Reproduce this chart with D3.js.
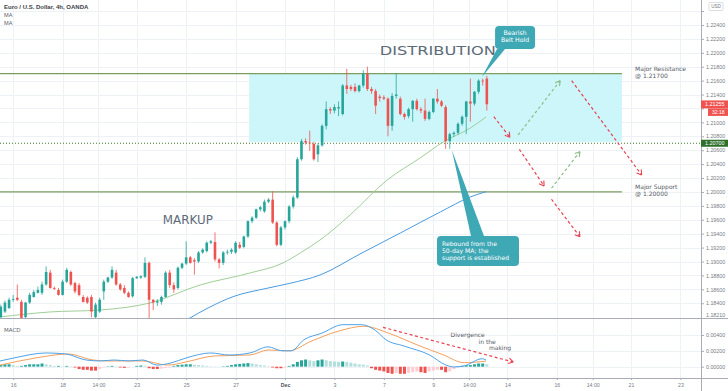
<!DOCTYPE html>
<html>
<head>
<meta charset="utf-8">
<script src="https://cdn.jsdelivr.net/npm/d3@7"></script>
<style>
  html, body { margin: 0; padding: 0; background: #fff; }
  svg { display: block; font-family: "DejaVu Sans", sans-serif; }
</style>
</head>
<body>
<svg id="chart" width="728" height="391"></svg>
<script>
// 4h candles, [open, high, low, close], bar index = position in list
const ohlc = [
  [1.1820,1.1838,1.1819,1.1835],[1.1828,1.1844,1.1826,1.1841],[1.1833,1.1848,1.1832,1.1845],[1.1845,1.1852,1.1842,1.1846],
  [1.1848,1.1867,1.1843,1.1845],[1.1842,1.1845,1.1816,1.1819],[1.1820,1.1842,1.1819,1.1841],[1.1841,1.1855,1.1839,1.1852],
  [1.1849,1.1859,1.1848,1.1856],[1.1855,1.1864,1.1854,1.1859],[1.1855,1.1871,1.1852,1.1867],[1.1867,1.1893,1.1865,1.1885],
  [1.1884,1.1888,1.1861,1.1862],[1.1862,1.1864,1.1859,1.1861],[1.1859,1.1862,1.1851,1.1852],[1.1852,1.1874,1.1851,1.1871],
  [1.1871,1.1891,1.1869,1.1888],[1.1885,1.1887,1.1865,1.1867],[1.1869,1.1871,1.1854,1.1857],[1.1866,1.1869,1.1850,1.1852],
  [1.1849,1.1852,1.1841,1.1842],[1.1848,1.1850,1.1839,1.1841],[1.1849,1.1852,1.1820,1.1828],[1.1820,1.1841,1.1816,1.1838],
  [1.1828,1.1848,1.1826,1.1845],[1.1857,1.1874,1.1845,1.1871],[1.1871,1.1878,1.1869,1.1877],[1.1877,1.1893,1.1875,1.1888],
  [1.1884,1.1888,1.1865,1.1867],[1.1867,1.1869,1.1858,1.1860],[1.1862,1.1866,1.1853,1.1855],[1.1855,1.1857,1.1848,1.1849],
  [1.1850,1.1878,1.1848,1.1876],[1.1876,1.1879,1.1875,1.1878],[1.1877,1.1880,1.1875,1.1879],[1.1878,1.1906,1.1876,1.1898],
  [1.1898,1.1900,1.1816,1.1845],[1.1845,1.1846,1.1830,1.1841],[1.1841,1.1846,1.1836,1.1843],[1.1842,1.1851,1.1838,1.1849],
  [1.1849,1.1886,1.1848,1.1884],[1.1884,1.1888,1.1862,1.1866],[1.1866,1.1870,1.1855,1.1860],[1.1862,1.1893,1.1860,1.1891],
  [1.1891,1.1898,1.1889,1.1897],[1.1897,1.1929,1.1895,1.1906],[1.1906,1.1908,1.1897,1.1898],[1.1902,1.1905,1.1881,1.1900],
  [1.1900,1.1915,1.1898,1.1913],[1.1913,1.1919,1.1911,1.1917],[1.1915,1.1929,1.1913,1.1927],[1.1927,1.1931,1.1925,1.1929],
  [1.1928,1.1942,1.1900,1.1903],[1.1903,1.1905,1.1890,1.1898],[1.1898,1.1915,1.1895,1.1913],[1.1913,1.1917,1.1910,1.1914],
  [1.1914,1.1919,1.1911,1.1917],[1.1913,1.1929,1.1911,1.1927],[1.1924,1.1928,1.1918,1.1920],[1.1921,1.1937,1.1919,1.1936],
  [1.1936,1.1959,1.1934,1.1958],[1.1958,1.1965,1.1955,1.1963],[1.1963,1.1976,1.1961,1.1975],[1.1975,1.1980,1.1972,1.1978],
  [1.1972,1.1989,1.1970,1.1986],[1.1986,1.1991,1.1984,1.1989],[1.1989,1.2001,1.1954,1.1956],[1.1956,1.1958,1.1922,1.1924],
  [1.1924,1.1951,1.1922,1.1949],[1.1949,1.1959,1.1946,1.1958],[1.1958,1.1981,1.1955,1.1979],[1.1979,1.1995,1.1976,1.1992],
  [1.1992,1.2050,1.1990,1.2047],[1.2047,1.2076,1.2045,1.2073],[1.2073,1.2077,1.2068,1.2071],[1.2071,1.2088,1.2059,1.2070],
  [1.2069,1.2072,1.2045,1.2047],[1.2054,1.2070,1.2043,1.2067],[1.2067,1.2097,1.2065,1.2095],[1.2095,1.2130,1.2090,1.2119],
  [1.2119,1.2122,1.2112,1.2117],[1.2117,1.2126,1.2113,1.2122],[1.2120,1.2130,1.2109,1.2122],[1.2112,1.2155,1.2110,1.2153],
  [1.2153,1.2177,1.2141,1.2148],[1.2151,1.2154,1.2145,1.2148],[1.2151,1.2156,1.2143,1.2145],[1.2145,1.2154,1.2143,1.2153],
  [1.2153,1.2175,1.2150,1.2170],[1.2170,1.2180,1.2145,1.2148],[1.2148,1.2151,1.2141,1.2145],[1.2145,1.2148,1.2112,1.2124],
  [1.2137,1.2140,1.2130,1.2135],[1.2136,1.2139,1.2132,1.2134],[1.2134,1.2136,1.2080,1.2095],[1.2095,1.2142,1.2088,1.2138],
  [1.2138,1.2170,1.2134,1.2140],[1.2134,1.2137,1.2110,1.2112],[1.2112,1.2114,1.2104,1.2108],[1.2109,1.2121,1.2106,1.2119],
  [1.2119,1.2132,1.2101,1.2131],[1.2131,1.2134,1.2117,1.2119],[1.2119,1.2122,1.2113,1.2117],[1.2117,1.2134,1.2102,1.2105],
  [1.2105,1.2117,1.2103,1.2115],[1.2115,1.2135,1.2113,1.2134],[1.2134,1.2148,1.2127,1.2130],[1.2130,1.2132,1.2122,1.2124],
  [1.2122,1.2125,1.2062,1.2073],[1.2073,1.2085,1.2062,1.2083],[1.2083,1.2087,1.2079,1.2085],[1.2085,1.2100,1.2082,1.2098],
  [1.2098,1.2110,1.2095,1.2108],[1.2108,1.2131,1.2083,1.2130],[1.2130,1.2163,1.2101,1.2127],[1.2127,1.2145,1.2124,1.2144],
  [1.2144,1.2162,1.2141,1.2160],[1.2160,1.2163,1.2153,1.2159],[1.2163,1.2167,1.2117,1.2126]
];

// moving averages, [bar, price]
const ma50 = [
  [-0.2,1.18203],[12,1.18275],[24.1,1.18303],[36.2,1.18404],[48.4,1.18663],[60.5,1.18835],[68.5,1.18979],
  [72.7,1.19123],[77.5,1.19309],[84.8,1.19669],[93.8,1.20172],[101.8,1.20488],[107.4,1.20718],[114,1.20919],[117.8,1.21077]
];
const ma100 = [
  [45.1,1.18160],[50.8,1.18347],[56.4,1.18495],[64.6,1.18615],[70.2,1.18687],[77.5,1.18806],[87.2,1.19108],
  [97,1.19410],[106.7,1.19712],[114,1.19928],[117.8,1.20004]
];

// MACD pane, [bar, value]
const macdLine = [
  [-0.2,0.00072],[3.2,0.0011],[11,0.00173],[15.8,0.0016],[20.7,0.00084],[24.1,0.00072],[27.5,0.00084],[31.1,0.00072],
  [34.5,0.00084],[37.9,0.0002],[41.3,0.00047],[45,0.0011],[51,0.00173],[55.4,0.00147],[60.5,0.00173],[64.9,0.0025],
  [68.3,0.002],[70.5,0.002],[73.6,0.0034],[77.8,0.0042],[83.1,0.0053],[87.5,0.0053],[90.9,0.0046],[93.5,0.0034],
  [97.9,0.0026],[104,0.0015],[108.1,0.0002],[110,-0.00004],[112.5,0.0001],[116.9,0.001],[117.8,0.00084]
];
const signalLine = [
  [-0.2,0.0002],[8.5,0.0011],[16.3,0.0016],[22.4,0.00084],[25.8,0.00072],[34.5,0.00072],[40.6,0.0002],[45,0.0006],
  [51.8,0.00135],[60.5,0.00147],[64.9,0.0021],[70,0.002],[75.3,0.0032],[82.1,0.0045],[88.2,0.0051],[94.3,0.0042],
  [101.3,0.0027],[107.4,0.0015],[112.5,0.0005],[117.8,0.0007]
];
const histogram = [
  0.0002,0.0003,0.0003,0.0002,0.0001,0.0001,0.0002,0.0003,0.0003,0.0003,
  0.0004,0.0003,0.0002,0.0001,0.0001,0.00005,0.0001,0.00005,-0.0001,-0.0003,
  -0.0004,-0.0004,-0.0005,-0.0005,-0.0003,-0.0001,0.00005,0.0001,0.00005,-0.0001,
  -0.00015,-0.0001,0,0.0001,0.00015,0.0001,-0.0002,-0.0003,-0.0003,-0.00025,
  -0.00015,-0.0001,0.0001,0.0002,0.00025,0.0003,0.0003,0.00025,0.0002,0.00015,
  0.0001,0.00005,0.00003,0.00002,0.00005,0.0001,0.0002,0.0003,0.00035,0.0004,
  0.00045,0.0004,0.0003,0.0002,0.00015,0.00005,-0.0001,-0.0002,-0.0002,-0.0001,
  0.0001,0.0003,0.0006,0.0008,0.0009,0.0008,0.0007,0.0008,0.0009,0.0008,
  0.0007,0.00065,0.0006,0.00065,0.0006,0.0005,0.0004,0.0003,0.00025,0.00015,
  -0.0002,-0.0004,-0.0005,-0.0006,-0.0008,-0.0009,-0.0008,-0.0009,-0.0009,-0.0008,
  -0.0007,-0.0006,-0.0007,-0.0008,-0.0006,-0.0005,-0.0004,-0.0004,-0.0007,-0.0006,
  -0.0003,0.00005,0.0001,0.0002,0.0002,0.0003,0.0004,0.0004,0.0003
];

const priceTicks = [1.226,1.224,1.222,1.220,1.218,1.216,1.214,1.212,1.210,1.208,1.206,1.204,1.202,1.200,
  1.198,1.196,1.194,1.192,1.190,1.188,1.186,1.184];
const macdTicks = [0.004, 0.002, 0];
const timeTicks = [
  [3,'16'],[15,'18'],[23.7,'14:00'],[33,'23'],[45,'25'],[57,'27'],[69,'Dec'],[81,'3'],
  [93,'7'],[105,'9'],[113.7,'14:00'],[123,'14'],[135,'16'],[143.7,'14:00'],[153,'21'],[165,'23']
];

const resistance = 1.217;
const support = 1.200;
const pivot = 1.207;
const lastPrice = 1.21255;
const zoneBars = [60.3, 150.8];
const zoneBottom = 1.2072;

// projected paths, [[bar, price], [bar, price]]
const bearishPaths = [
  [[119.7,1.21082],[123.6,1.20786]],
  [[125.9,1.20613],[131.9,1.20086]],
  [[133.7,1.19895],[140.6,1.19357]],
  [[138.6,1.21599],[155.6,1.20244]]
];
const bullishPaths = [
  [[125.6,1.20819],[135.8,1.21599]],
  [[133.7,1.20053],[140.6,1.20579]]
];
const macdArrow = [[92.8,0.00496],[124.4,0.00059]];

const width = 728;
const height = 391;
const axisX = 701;
const paneBottom = 318;
const macdBottom = 378;

const up = '#26a69a';
const down = '#ef5350';
const teal = '#3ea8b5';
const gridColor = '#eef1f6';
const textGrey = '#787b86';
const axisFont = '"Liberation Sans", Arial, sans-serif';

const svg = d3.select('#chart');

const x = d3.scaleLinear().domain([-0.2, 170]).range([0, axisX]);
const y = d3.scaleLinear().domain([1.18188, 1.22759]).range([paneBottom, 0]);
const ym = d3.scaleLinear().domain([-0.00143, 0.00614]).range([macdBottom, paneBottom]);

svg.append('rect').attr('width', width).attr('height', height).attr('fill', '#fff');

const defs = svg.append('defs');
defs.append('clipPath').attr('id', 'clip-price')
  .append('rect').attr('width', axisX).attr('height', paneBottom);
defs.append('clipPath').attr('id', 'clip-macd')
  .append('rect').attr('y', paneBottom).attr('width', axisX).attr('height', macdBottom - paneBottom);

// grid
const grid = svg.append('g').attr('stroke', gridColor).attr('stroke-width', 1);
grid.selectAll('.vg').data(timeTicks).join('line')
  .attr('x1', (d) => Math.round(x(d[0])) + 0.5).attr('x2', (d) => Math.round(x(d[0])) + 0.5)
  .attr('y1', 0).attr('y2', macdBottom);
grid.selectAll('.hg').data(priceTicks).join('line')
  .attr('x1', 0).attr('x2', axisX)
  .attr('y1', (d) => Math.round(y(d)) + 0.5).attr('y2', (d) => Math.round(y(d)) + 0.5);
grid.selectAll('.mg').data(macdTicks).join('line')
  .attr('x1', 0).attr('x2', axisX)
  .attr('y1', (d) => Math.round(ym(d)) + 0.5).attr('y2', (d) => Math.round(ym(d)) + 0.5);

const price = svg.append('g').attr('clip-path', 'url(#clip-price)');

// distribution zone
price.append('rect')
  .attr('x', x(zoneBars[0])).attr('width', x(zoneBars[1]) - x(zoneBars[0]))
  .attr('y', y(resistance)).attr('height', y(zoneBottom) - y(resistance))
  .attr('fill', '#cdf6fb');

// key levels
price.selectAll('.level').data([resistance, support]).join('line')
  .attr('x1', x(-0.2)).attr('x2', x(zoneBars[1]))
  .attr('y1', (d) => y(d)).attr('y2', (d) => y(d))
  .attr('stroke', '#7a9e5e').attr('stroke-width', 1.3);

price.append('line')
  .attr('x1', 0).attr('x2', axisX).attr('y1', y(pivot)).attr('y2', y(pivot))
  .attr('stroke', '#3d7a33').attr('stroke-width', 1).attr('stroke-dasharray', '1,2');

// moving averages
const maLine = d3.line().x((d) => x(d[0])).y((d) => y(d[1])).curve(d3.curveMonotoneX);
price.append('path').datum(ma50).attr('d', maLine)
  .attr('fill', 'none').attr('stroke', '#9fcf97').attr('stroke-width', 1);
price.append('path').datum(ma100).attr('d', maLine)
  .attr('fill', 'none').attr('stroke', '#4a9be0').attr('stroke-width', 1);

// candles
const candles = price.append('g').selectAll('g').data(ohlc).join('g');
candles.append('line')
  .attr('x1', (d, i) => x(i)).attr('x2', (d, i) => x(i))
  .attr('y1', (d) => y(d[1])).attr('y2', (d) => y(d[2]))
  .attr('stroke', (d) => (d[3] >= d[0] ? up : down)).attr('stroke-width', 0.8);
candles.append('rect')
  .attr('x', (d, i) => x(i) - 1.3).attr('width', 2.6)
  .attr('y', (d) => y(Math.max(d[0], d[3])))
  .attr('height', (d) => Math.max(0.8, Math.abs(y(d[0]) - y(d[3]))))
  .attr('fill', (d) => (d[3] >= d[0] ? up : down));

// projected paths
function drawArrow(g, pts, color, yScale) {
  const [x0, y0] = [x(pts[0][0]), yScale(pts[0][1])];
  const [x1, y1] = [x(pts[1][0]), yScale(pts[1][1])];
  g.append('line').attr('x1', x0).attr('y1', y0).attr('x2', x1).attr('y2', y1)
    .attr('stroke', color).attr('stroke-width', 1.2).attr('stroke-dasharray', '3,2.5');
  const a = Math.atan2(y1 - y0, x1 - x0);
  [-0.55, 0.55].forEach((s) => {
    g.append('line').attr('x1', x1).attr('y1', y1)
      .attr('x2', x1 - 5.5 * Math.cos(a + s)).attr('y2', y1 - 5.5 * Math.sin(a + s))
      .attr('stroke', color).attr('stroke-width', 1.1);
  });
}
bearishPaths.forEach((p) => drawArrow(price, p, '#e8414f', y));
bullishPaths.forEach((p) => drawArrow(price, p, '#8dbd86', y));

// text labels
price.append('text').attr('x', x(106.1)).attr('y', y(1.2204)).attr('dy', '0.35em')
  .attr('text-anchor', 'middle').attr('font-size', 13).attr('fill', '#5d6b78')
  .attr('textLength', 116).attr('lengthAdjust', 'spacingAndGlyphs').text('DISTRIBUTION');
price.append('text').attr('x', x(45.4)).attr('y', y(1.19597)).attr('dy', '0.35em')
  .attr('text-anchor', 'middle').attr('font-size', 12).attr('fill', '#5d6b78')
  .attr('textLength', 50).attr('lengthAdjust', 'spacingAndGlyphs').text('MARKUP');

const levelText = price.append('g').attr('font-size', 6).attr('fill', '#555a63');
levelText.append('text').attr('x', x(154)).attr('y', y(resistance) - 3).text('Major Resistance');
levelText.append('text').attr('x', x(154)).attr('y', y(resistance) + 4).text('@ 1.21700');
levelText.append('text').attr('x', x(154)).attr('y', y(support) - 3).text('Major Support');
levelText.append('text').attr('x', x(154)).attr('y', y(support) + 4).text('@ 1.20000');

// callouts
function callout(tip, box, w, h, lines, anchor) {
  const g = price.append('g');
  const tx = x(tip[0]);
  const ty = y(tip[1]);
  const bx = x(box[0]);
  const by = y(box[1]);
  const baseY = anchor === 'below' ? by + h : by;
  const b0 = anchor === 'below' ? bx + 2 : bx + 34;
  const b1 = anchor === 'below' ? bx + 10 : bx + 47;
  g.append('path').attr('d', `M${tx},${ty}L${b0},${baseY}L${b1},${baseY}Z`).attr('fill', teal);
  g.append('rect').attr('x', bx).attr('y', by).attr('width', w).attr('height', h)
    .attr('rx', 4).attr('fill', teal);
  const centred = anchor === 'below';
  g.selectAll('text').data(lines).join('text')
    .attr('x', centred ? bx + w / 2 : bx + 5)
    .attr('y', (d, i) => by + (centred ? 9.2 : 10.5) + i * (centred ? 6.8 : 6.6))
    .attr('text-anchor', centred ? 'middle' : 'start')
    .attr('font-size', centred ? 6.2 : 6.1).attr('fill', '#fff').text((d) => d);
}
callout([116.8, 1.21652], [120, 1.22386], 40, 23, ['Bearish', 'Belt Hold'], 'below');
callout([109.5, 1.20603], [105.9, 1.19367], 82, 30,
  ['Rebound from the', '50-day MA; the', 'support is established'], 'above');

// MACD pane
const macd = svg.append('g').attr('clip-path', 'url(#clip-macd)');
const histColor = (d, i) => {
  const prev = i > 0 ? histogram[i - 1] : d;
  if (d >= 0) return d >= prev ? up : '#b2dfdb';
  return d <= prev ? '#ef5350' : '#ffcdd2';
};
macd.selectAll('.hb').data(histogram).join('rect')
  .attr('x', (d, i) => x(i) - 1.5).attr('width', 3)
  .attr('y', (d) => ym(Math.max(0, d)))
  .attr('height', (d) => Math.abs(ym(d) - ym(0)))
  .attr('fill', histColor);

const macdPath = d3.line().x((d) => x(d[0])).y((d) => ym(d[1])).curve(d3.curveMonotoneX);
macd.append('path').datum(signalLine).attr('d', macdPath)
  .attr('fill', 'none').attr('stroke', '#f5a05a').attr('stroke-width', 1);
macd.append('path').datum(macdLine).attr('d', macdPath)
  .attr('fill', 'none').attr('stroke', '#4da3e8').attr('stroke-width', 1);
drawArrow(macd, macdArrow, '#e8414f', ym);

const divText = macd.append('g').attr('font-size', 6).attr('fill', '#555a63');
divText.append('text').attr('x', x(109.2)).attr('y', 337).text('Divergence');
divText.append('text').attr('x', x(116)).attr('y', 343.6).text('in the');
divText.append('text').attr('x', x(118.5)).attr('y', 350.2).text('making');

svg.append('text').attr('x', 4).attr('y', 332).attr('font-size', 5.5)
  .attr('fill', '#5d606b').text('MACD');

// frame lines
svg.append('line').attr('x1', 0).attr('x2', width).attr('y1', paneBottom + 0.5).attr('y2', paneBottom + 0.5)
  .attr('stroke', '#a9acb5');
svg.append('line').attr('x1', 0).attr('x2', width).attr('y1', macdBottom + 0.5).attr('y2', macdBottom + 0.5)
  .attr('stroke', '#a9acb5');
svg.append('line').attr('x1', axisX + 0.5).attr('x2', axisX + 0.5).attr('y1', 0).attr('y2', height)
  .attr('stroke', '#a9acb5');

// price axis
const fmt = d3.format('.5f');
const priceAxis = svg.append('g').attr('transform', `translate(${axisX},0)`)
  .call(d3.axisRight(y).tickValues(priceTicks).tickSize(3).tickFormat(fmt));
const macdAxis = svg.append('g').attr('transform', `translate(${axisX},0)`)
  .call(d3.axisRight(ym).tickValues(macdTicks).tickSize(3).tickFormat(fmt));
[priceAxis, macdAxis].forEach((g) => {
  g.select('.domain').remove();
  g.selectAll('line').attr('stroke', '#a9acb5');
  g.selectAll('text').attr('x', 5).attr('font-size', 5.3).attr('fill', textGrey)
    .attr('font-family', axisFont);
});
// labels hidden under the price tags or the currency tag
priceAxis.selectAll('.tick')
  .filter((d) => Math.abs(y(d) - y(lastPrice)) < 9 || y(d) < 13)
  .select('text').remove();
svg.append('text').attr('x', axisX + 5).attr('y', paneBottom - 1).attr('font-size', 5.3)
  .attr('fill', textGrey).attr('font-family', axisFont).text('1.18210');

// USD tag
svg.append('rect').attr('x', 709).attr('y', 2.5).attr('width', 14).attr('height', 8)
  .attr('fill', '#fff').attr('stroke', '#c4c7ce').attr('stroke-width', 0.6).attr('rx', 1);
svg.append('text').attr('x', 716).attr('y', 8.3).attr('text-anchor', 'middle').attr('font-size', 4.6)
  .attr('fill', textGrey).attr('font-family', axisFont).text('USD');

// last price and pivot tags
const tag = (label, color, top, h, left, size) => {
  svg.append('rect').attr('x', left).attr('y', top).attr('width', width - left).attr('height', h).attr('fill', color);
  svg.append('text').attr('x', left + 4).attr('y', top + h / 2).attr('dy', '0.35em')
    .attr('font-size', size).attr('fill', '#fff')
    .attr('font-family', axisFont).text(label);
};
tag(fmt(lastPrice), '#ef5350', y(lastPrice) - 4.2, 8, axisX, 5.4);
tag('32:18', '#ef5350', y(lastPrice) + 3.8, 7.5, 708, 5);
tag(fmt(pivot), '#2e6f2a', y(pivot) - 3.5, 7, axisX, 5.4);

// time axis
const timeAxis = svg.append('g').attr('transform', `translate(0,${macdBottom})`)
  .call(d3.axisBottom(x).tickValues(timeTicks.map((d) => d[0])).tickSize(2)
    .tickFormat((d, i) => timeTicks[i][1]));
timeAxis.select('.domain').remove();
timeAxis.selectAll('line').attr('stroke', '#a9acb5');
timeAxis.selectAll('text').attr('y', 5).attr('font-size', 5.2)
  .attr('font-family', axisFont)
  .attr('font-weight', (d, i) => (timeTicks[i][1] === 'Dec' ? 'bold' : null))
  .attr('fill', (d, i) => (timeTicks[i][1] === 'Dec' ? '#50535e' : textGrey));

// legend
const legend = svg.append('g').attr('font-family', axisFont);
legend.append('text').attr('x', 4).attr('y', 8.5).attr('font-size', 6).attr('font-weight', 'bold')
  .attr('fill', '#3c3f48').text('Euro / U.S. Dollar, 4h, OANDA');
legend.append('text').attr('x', 4).attr('y', 17).attr('font-size', 5.6).attr('fill', '#5d606b').text('MA');
legend.append('text').attr('x', 4).attr('y', 25.3).attr('font-size', 5.6).attr('fill', '#5d606b').text('MA');
</script>
</body>
</html>
